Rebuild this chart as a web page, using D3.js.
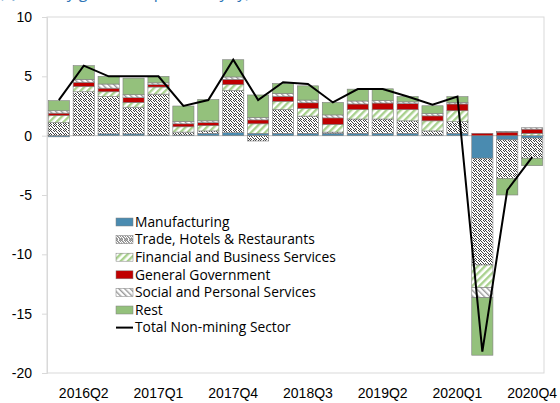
<!DOCTYPE html>
<html>
<head>
<meta charset="utf-8">
<script src="https://cdn.jsdelivr.net/npm/d3@7"></script>
<style>
  body { margin: 0; background: #fff; }
  svg { font-family: "Open Sans", sans-serif; }
</style>
</head>
<body>
<div id="chart"></div>
<script>
// quarters 2016Q1 .. 2020Q4
const quarters = [
  "2016Q1", "2016Q2", "2016Q3", "2016Q4",
  "2017Q1", "2017Q2", "2017Q3", "2017Q4",
  "2018Q1", "2018Q2", "2018Q3", "2018Q4",
  "2019Q1", "2019Q2", "2019Q3", "2019Q4",
  "2020Q1", "2020Q2", "2020Q3", "2020Q4",
];
const tickLabels = ["2016Q2", "2017Q1", "2017Q4", "2018Q3", "2019Q2", "2020Q1", "2020Q4"];
const yTicks = [-20, -15, -10, -5, 0, 5, 10];

const manufacturing = [-0.1, 0.0, 0.15, 0.15, 0.05, 0.05, 0.2, 0.25, 0.2, 0.2, 0.2, 0.2, 0.2, 0.2, 0.2, 0.05, 0.2, -1.9, -0.35, -0.2];
const trade = [1.1, 3.7, 3.15, 2.25, 3.45, 0.25, 0.2, 3.55, -0.45, 2.0, 1.45, 0.1, 1.2, 1.2, 1.05, 0.35, 0.98, -9.0, -3.25, -1.7];
const financial = [0.6, 0.45, 0.4, 0.4, 0.6, 0.45, 0.45, 0.5, 0.8, 0.7, 0.65, 0.65, 0.8, 0.8, 0.95, 0.85, 0.92, -1.9, 0.0, 0.2];
const government = [0.2, 0.35, 0.3, 0.4, 0.2, 0.25, 0.25, 0.45, 0.33, 0.42, 0.47, 0.55, 0.47, 0.55, 0.5, 0.42, 0.57, 0.2, 0.3, 0.35];
const social = [0.2, 0.25, 0.35, 0.25, 0.15, 0.2, 0.15, 0.2, 0.2, 0.23, 0.23, 0.25, 0.25, 0.2, 0.15, 0.2, 0.13, -0.85, 0.05, 0.12];
const rest = [0.85, 1.15, 0.65, 1.4, 0.55, 1.3, 1.8, 1.45, 1.9, 0.85, 1.2, 1.05, 1.0, 1.0, 0.45, 0.65, 0.49, -4.85, -1.4, -0.63];
const total = [3.0, 5.9, 5.0, 5.0, 5.0, 2.5, 3.0, 6.4, 3.0, 4.5, 4.35, 2.8, 3.93, 3.93, 3.3, 2.6, 3.3, -18.2, -4.6, -1.8];

const seriesKeys = ["manufacturing", "trade", "financial", "government", "social", "rest"];
const seriesLabels = [
  "Manufacturing",
  "Trade, Hotels & Restaurants",
  "Financial and Business Services",
  "General Government",
  "Social and Personal Services",
  "Rest",
];
const lineLabel = "Total Non-mining Sector";

// build rows for d3.stack
const rows = quarters.map((q, i) => ({
  quarter: q,
  manufacturing: manufacturing[i],
  trade: trade[i],
  financial: financial[i],
  government: government[i],
  social: social[i],
  rest: rest[i],
  total: total[i],
}));

const width = 560;
const height = 403;
const margin = { top: 17, right: 16, bottom: 30, left: 47 };

const svg = d3
  .select("#chart")
  .append("svg")
  .attr("width", width)
  .attr("height", height);

// patterns
const defs = svg.append("defs");

const stipple = defs
  .append("pattern")
  .attr("id", "stipple")
  .attr("patternUnits", "userSpaceOnUse")
  .attr("width", 5)
  .attr("height", 5);
stipple.append("rect").attr("width", 5).attr("height", 5).attr("fill", "#ffffff");
// fixed speckle layout inside one 5x5 tile
[[0, 0], [3, 0], [1, 1], [4, 1], [2, 2], [0, 3], [3, 3], [1, 4], [4, 4]].forEach(([dx, dy]) => {
  stipple.append("rect").attr("x", dx).attr("y", dy).attr("width", 1).attr("height", 1).attr("fill", "#404040");
});

const finHatch = defs
  .append("pattern")
  .attr("id", "finHatch")
  .attr("patternUnits", "userSpaceOnUse")
  .attr("width", 5)
  .attr("height", 5)
  .attr("patternTransform", "rotate(45)");
finHatch.append("rect").attr("width", 5).attr("height", 5).attr("fill", "#ffffff");
finHatch.append("rect").attr("width", 2.4).attr("height", 5).attr("fill", "#a9d18e");

const socHatch = defs
  .append("pattern")
  .attr("id", "socHatch")
  .attr("patternUnits", "userSpaceOnUse")
  .attr("width", 4)
  .attr("height", 4)
  .attr("patternTransform", "rotate(-45)");
socHatch.append("rect").attr("width", 4).attr("height", 4).attr("fill", "#ffffff");
socHatch.append("rect").attr("width", 1.4).attr("height", 4).attr("fill", "#9a9a9a");

const fills = {
  manufacturing: "#4a8bb0",
  trade: "url(#stipple)",
  financial: "url(#finHatch)",
  government: "#c00000",
  social: "url(#socHatch)",
  rest: "#94c17c",
};

// title (cut off at top of the picture, as in the source)
svg
  .append("text")
  .attr("x", -1)
  .attr("y", -2)
  .style("font-size", "16px")
  .style("fill", "#2e75b6")
  .text("(Quarterly growth in percent, yoy)");

// scales
const x = d3
  .scaleBand()
  .domain(quarters)
  .range([margin.left, width - margin.right])
  .paddingInner(0.15)
  .paddingOuter(0.05);

const y = d3
  .scaleLinear()
  .domain([-20, 10])
  .range([height - margin.bottom, margin.top]);

// plot frame
svg
  .append("rect")
  .attr("x", margin.left)
  .attr("y", margin.top)
  .attr("width", width - margin.left - margin.right)
  .attr("height", height - margin.top - margin.bottom)
  .attr("fill", "none")
  .attr("stroke", "#d9d9d9");

// y axis
const yAxis = svg
  .append("g")
  .attr("transform", `translate(${margin.left},0)`)
  .call(
    d3.axisLeft(y)
      .tickValues(yTicks)
      .tickFormat((d) => String(d))
      .tickSize(5)
      .tickPadding(10)
  );
yAxis.select(".domain").attr("stroke", "#d9d9d9");
yAxis.selectAll(".tick line").attr("stroke", "#d9d9d9");
yAxis.selectAll("text").style("font-size", "14px").attr("fill", "#000");

// x axis
const xAxis = svg
  .append("g")
  .attr("transform", `translate(0,${height - margin.bottom})`)
  .call(d3.axisBottom(x).tickValues(tickLabels).tickSize(0).tickPadding(15));
xAxis.select(".domain").remove();
xAxis.selectAll("text").style("font-size", "14px").attr("fill", "#000");

// zero line
svg
  .append("line")
  .attr("x1", margin.left)
  .attr("x2", width - margin.right)
  .attr("y1", y(0))
  .attr("y2", y(0))
  .attr("stroke", "#bfbfbf")
  .attr("stroke-width", 1);

// stacked bars
const stack = d3.stack().keys(seriesKeys).offset(d3.stackOffsetDiverging);
const stacked = stack(rows);

svg
  .append("g")
  .selectAll("g")
  .data(stacked)
  .enter()
  .append("g")
  .attr("fill", (d) => fills[d.key])
  .selectAll("rect")
  .data((d) => d)
  .enter()
  .append("rect")
  .attr("x", (d) => x(d.data.quarter))
  .attr("width", x.bandwidth())
  .attr("y", (d) => y(Math.max(d[0], d[1])))
  .attr("height", (d) => Math.abs(y(d[0]) - y(d[1])))
  .attr("stroke", "#7f7f7f")
  .attr("stroke-width", 0.6);

// total line
const line = d3
  .line()
  .x((d) => x(d.quarter) + x.bandwidth() / 2)
  .y((d) => y(d.total));

svg
  .append("path")
  .datum(rows)
  .attr("d", line)
  .attr("fill", "none")
  .attr("stroke", "#000")
  .attr("stroke-width", 2);

// legend
const legend = svg.append("g").attr("transform", "translate(116,222)");
const rowH = 17.6;

seriesKeys.forEach((key, i) => {
  const g = legend.append("g").attr("transform", `translate(0,${i * rowH})`);
  g.append("rect")
    .attr("x", 0)
    .attr("y", -4)
    .attr("width", 17)
    .attr("height", 8)
    .attr("fill", fills[key])
    .attr("stroke", "#7f7f7f")
    .attr("stroke-width", 0.5);
  g.append("text")
    .attr("x", 19)
    .attr("y", 0)
    .attr("dy", "0.35em")
    .style("font-size", "13.8px")
    .text(seriesLabels[i]);
});

const lg = legend.append("g").attr("transform", `translate(0,${seriesKeys.length * rowH})`);
lg.append("line")
  .attr("x1", 0)
  .attr("x2", 17)
  .attr("stroke", "#000")
  .attr("stroke-width", 2);
lg.append("text")
  .attr("x", 19)
  .attr("dy", "0.35em")
  .style("font-size", "13.8px")
  .text(lineLabel);
</script>
</body>
</html>
